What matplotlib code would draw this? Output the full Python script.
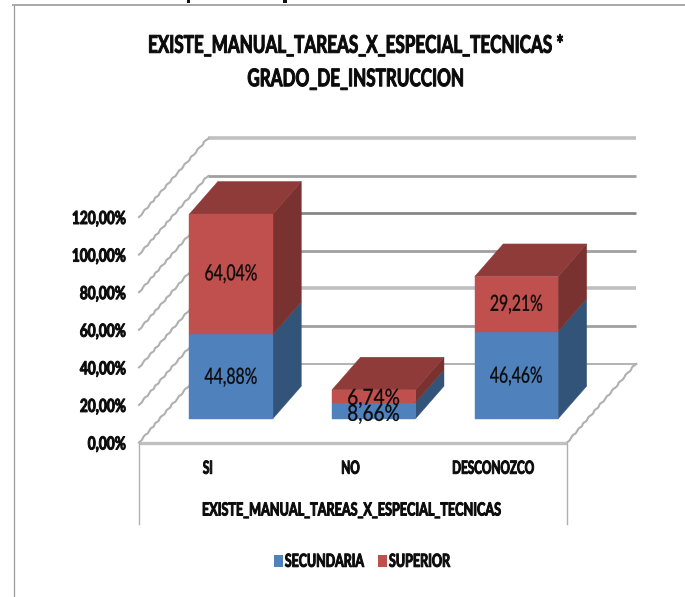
import matplotlib
matplotlib.use("Agg")
import matplotlib.pyplot as plt
import matplotlib.patheffects as pe
from matplotlib.patches import Polygon, Rectangle
from matplotlib.transforms import Affine2D, Bbox

plt.rcParams['font.family'] = ['Lato', 'DejaVu Sans']

# ---- data ----
categories = ['SI', 'NO', 'DESCONOZCO']
secundaria = [44.88, 8.66, 46.46]
superior = [64.04, 6.74, 29.21]
series_names = ['SECUNDARIA', 'SUPERIOR']
y_ticks = [0, 20, 40, 60, 80, 100, 120]
y_labels = ['0,00%', '20,00%', '40,00%', '60,00%', '80,00%', '100,00%', '120,00%']
x_title = 'EXISTE_MANUAL_TAREAS_X_ESPECIAL_TECNICAS'
chart_title = 'EXISTE_MANUAL_TAREAS_X_ESPECIAL_TECNICAS *\nGRADO_DE_INSTRUCCION'

# ---- style ----
W, H = 685, 597
BLUE, BLUE_SIDE = '#4F81BD', '#335479'
RED, RED_SIDE, RED_TOP = '#C0504D', '#7A3230', '#8E3B39'
INK = '#0A0A0A'
GRID = ['#A6A6A6', '#A0A0A0', '#C0C0C0', '#A0A0A0', '#868686', '#A0A0A0', '#C0C0C0']
GRID_LW = [1.2, 2.0, 2.6, 2.0, 2.0, 2.0, 2.6]
DEPTH_X = 0.4836   # category units for full floor depth
DEPTH_Y = 42.0     # percent units for full floor depth
BAR_W = 0.585
BAR_D0, BAR_D1 = 0.30, 0.714
LABEL_NUDGE_SEC = [-0.6, -2.2, -0.8]   # percent units, label placement tweak
LABEL_NUDGE_SUP = [0.0, -1.4, -0.4]
HEAVY = 0.7    # px of extra stroke on bold text
LIGHT = 0.2    # px of extra stroke on regular text


def proj(x, y, d):
    return x + d * DEPTH_X, y + d * DEPTH_Y


class Squeeze(pe.AbstractPathEffect):
    """Draw a real Text artist rescaled about its anchor (condensed in x, optionally taller)."""

    def __init__(self, text, sx, stroke=HEAVY, sy=1.0):
        super().__init__()
        self.text, self.sx, self.stroke, self.sy = text, sx, stroke, sy

    def draw_path(self, renderer, gc, tpath, affine, rgbFace=None):
        cx = self.text.get_transform().transform(self.text.get_position())[0]
        bb = self.text.get_window_extent(renderer)
        cy = 0.5 * (bb.y0 + bb.y1)
        squeeze = (Affine2D().translate(-cx, -cy).scale(self.sx, self.sy)
                   .translate(cx, cy))
        gc0 = renderer.new_gc()
        gc0.copy_properties(gc)
        gc0.set_foreground(rgbFace)
        gc0.set_linewidth(self.stroke)
        renderer.draw_path(gc0, tpath, affine + squeeze, rgbFace)
        gc0.restore()


def condense(text, sx, stroke=HEAVY, sy=1.0):
    """Apply the squeeze and make the text report the extent it really draws."""
    natural_extent = text.get_window_extent

    def extent(renderer=None, dpi=None):
        bb = natural_extent(renderer, dpi)
        cx = text.get_transform().transform(text.get_position())[0]
        return Bbox.from_extents(cx + (bb.x0 - cx) * sx, bb.y0, cx + (bb.x1 - cx) * sx, bb.y1)

    text.get_window_extent = extent
    text.set_path_effects([Squeeze(text, sx, stroke, sy)])


fig = plt.figure(figsize=(W / 100, H / 100), dpi=100)
fig.patch.set_facecolor('white')
renderer = fig.canvas.get_renderer()


def fit(text, target_px, stroke=HEAVY, sy=1.0):
    """Condense a text so that its natural width becomes target_px."""
    condense(text, target_px / text.get_window_extent(renderer).width, stroke, sy)


ax = fig.add_axes([139 / W, (H - 442.5) / H, 428 / W, 225.5 / H])
ax.set_xlim(-0.5, 2.5)
ax.set_ylim(0, 120)
ax.patch.set_visible(False)
for s in ax.spines.values():
    s.set_visible(False)

# walls
x_left, x_right = ax.get_xlim()


def diagonal(xs, ys):
    ln, = ax.plot(xs, ys, color='#B0B0B0', lw=1.5, clip_on=False, zorder=1)
    ln.set_sketch_params(scale=0.5, length=10, randomness=2)


for t, c, lw in zip(y_ticks, GRID, GRID_LW):
    p0 = proj(x_left, t, 1)
    p1 = proj(x_right, t, 1)
    ax.plot([p0[0], p1[0]], [p0[1], p1[1]], color=c, lw=lw, clip_on=False,
            solid_capstyle='butt', zorder=1)
    q = proj(x_left, t, 0)
    diagonal([q[0], p0[0]], [q[1], p0[1]])
q0, q1 = proj(x_right, 0, 0), proj(x_right, 0, 1)
diagonal([q0[0], q1[0]], [q0[1], q1[1]])
ax.plot([x_left, x_right], [0, 0], color='#C0C0C0', lw=2.4, clip_on=False,
        solid_capstyle='butt', zorder=2)


def box(xc, y0, y1, front, side, top=None, z=3):
    xa, xb = xc - BAR_W / 2, xc + BAR_W / 2

    def poly(pts, color):
        ax.add_patch(Polygon(pts, closed=True, fc=color, ec=color, lw=0.3,
                             clip_on=False, zorder=z))
    poly([proj(xb, y0, BAR_D0), proj(xb, y0, BAR_D1), proj(xb, y1, BAR_D1),
          proj(xb, y1, BAR_D0)], side)
    if top:
        poly([proj(xa, y1, BAR_D0), proj(xb, y1, BAR_D0), proj(xb, y1, BAR_D1),
              proj(xa, y1, BAR_D1)], top)
    poly([proj(xa, y0, BAR_D0), proj(xb, y0, BAR_D0), proj(xb, y1, BAR_D0),
          proj(xa, y1, BAR_D0)], front)


def bar_label(i, value, y_mid):
    xl, y = proj(i, y_mid, BAR_D0)
    t = ax.text(xl, y, f'{value:.2f}%'.replace('.', ','), ha='center', va='center',
                fontsize=16, color=INK, zorder=6, clip_on=False)
    fit(t, 53, LIGHT)


for i, (a, b) in enumerate(zip(secundaria, superior)):
    box(i, 0, a, BLUE, BLUE_SIDE)
    box(i, a, a + b, RED, RED_SIDE, RED_TOP)
    bar_label(i, a, a / 2 + LABEL_NUDGE_SEC[i])
    bar_label(i, b, a + b / 2 + LABEL_NUDGE_SUP[i])

# axes text
ax.set_yticks(y_ticks)
ax.set_yticklabels(y_labels, fontsize=13, fontweight='bold', color=INK)
ax.set_xticks(range(len(categories)))
ax.set_xticklabels(categories, fontsize=13, fontweight='bold', color=INK)
ax.tick_params(axis='y', length=0, pad=9.4)
ax.tick_params(axis='x', length=0, pad=12.4)
ref = fig.text(0, 0, y_labels[-1], fontsize=13, fontweight='bold')
y_sx = 54 / ref.get_window_extent(renderer).width
ref.remove()
ref = fig.text(0, 0, categories[-1], fontsize=13, fontweight='bold')
x_sx = 82 / ref.get_window_extent(renderer).width
ref.remove()
for lbl in ax.get_yticklabels():
    condense(lbl, y_sx)
for lbl in ax.get_xticklabels():
    lbl.set_transform(lbl.get_transform() + Affine2D().translate(-2.5, 0))
    condense(lbl, x_sx)

# category-axis box lines, title
for px in (139, 566.5):
    fig.add_artist(plt.Line2D([px / W, px / W], [(H - 443) / H, (H - 524) / H],
                              color='#B0B0B0', lw=1.0))
fit(fig.text(351.5 / W, (H - 510) / H, x_title, ha='center', va='center', fontsize=13,
             fontweight='bold', color=INK), 299)
fit(fig.text(355.5 / W, (H - 62) / H, chart_title, ha='center', va='center', fontsize=17.5,
             fontweight='bold', color=INK, linespacing=1.55), 415)

# legend
leg_handles = [Rectangle((0, 0), 1, 1, fc=BLUE), Rectangle((0, 0), 1, 1, fc=RED)]
leg = fig.legend(leg_handles, series_names, loc='center', bbox_to_anchor=(368.5 / W, (H - 562) / H),
                 ncol=2, frameon=False, prop={'size': 11, 'weight': 'bold'},
                 handlelength=0.62, handleheight=0.8, handletextpad=0.1, columnspacing=-0.28)
for t, px in zip(leg.get_texts(), (79, 61)):
    t.set_color(INK)
    fit(t, px, HEAVY, 13 / 11)

# outer chart border and clipped marks of the text above the chart
fig.add_artist(plt.Line2D([13.5 / W, 13.5 / W], [0, (H - 5) / H], color='#9A9A9A', lw=0.9))
fig.add_artist(plt.Line2D([13 / W, 1], [(H - 5) / H, (H - 5) / H], color='#A8A8A8', lw=1.4))
for px in (187, 283):
    fig.add_artist(Rectangle((px / W, (H - 2.5) / H), 3.5 / W, 2.5 / H, fc='#111111', ec='none',
                             transform=fig.transFigure))

fig.savefig('out.png', dpi=100)
